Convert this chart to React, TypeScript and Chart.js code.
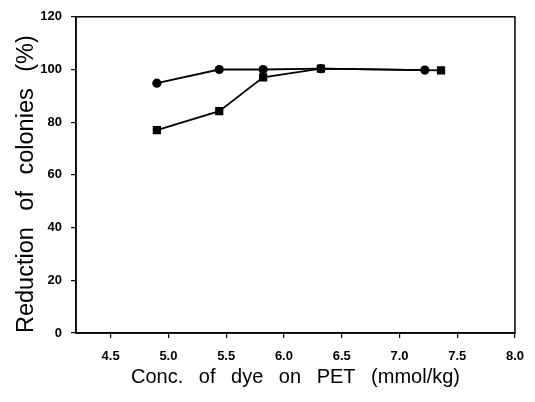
import React, { useEffect, useRef } from "react";
import { Chart, registerables } from "chart.js";

Chart.register(...registerables);

const circleX = [4.9, 5.44, 5.82, 6.32, 7.22];
const circleY = [94.8, 100, 100, 100.3, 99.8];
const squareX = [4.9, 5.44, 5.82, 6.32, 7.36];
const squareY = [77, 84.2, 97, 100.3, 99.7];
const xTicks = [4.5, 5.0, 5.5, 6.0, 6.5, 7.0, 7.5, 8.0];
const yTicks = [0, 20, 40, 60, 80, 100, 120];
const xTitle = "Conc. of dye on PET (mmol/kg)";
const yTitle = "Reduction of colonies (%)";

const FONT = "'Liberation Sans', Arial, sans-serif";

const framePlugin = {
  id: "frame",
  beforeDraw(chart: any) {
    (chart.ctx as any).wordSpacing = "10px";
  },
  afterDraw(chart: any) {
    const { ctx, chartArea } = chart;
    ctx.save();
    ctx.strokeStyle = "#000";
    ctx.lineWidth = 1.5;
    ctx.strokeRect(chartArea.left, chartArea.top, chartArea.right - chartArea.left, chartArea.bottom - chartArea.top);
    ctx.restore();
  },
};

export default function App() {
  const ref = useRef<HTMLCanvasElement>(null);
  useEffect(() => {
    if (!ref.current) return;
    const chart = new Chart(ref.current, {
      type: "scatter",
      data: {
        datasets: [
          {
            label: "square",
            data: squareX.map((x, i) => ({ x, y: squareY[i] })),
            showLine: true,
            borderColor: "#000",
            backgroundColor: "#000",
            borderWidth: 1.8,
            pointStyle: "rect",
            pointRadius: 5.8,
            pointBorderWidth: 0,
          },
          {
            label: "circle",
            data: circleX.map((x, i) => ({ x, y: circleY[i] })),
            showLine: true,
            borderColor: "#000",
            backgroundColor: "#000",
            borderWidth: 1.8,
            pointStyle: "circle",
            pointRadius: 4.6,
            pointBorderWidth: 0,
          },
        ],
      },
      options: {
        animation: false,
        responsive: false,
        layout: { padding: { top: 13, right: 12, left: 0, bottom: 0 } },
        plugins: { legend: { display: false }, tooltip: { enabled: false } },
        scales: {
          x: {
            type: "linear",
            min: 4.2,
            max: 8.0,
            afterBuildTicks: (s: any) => {
              s.ticks = xTicks.map((v) => ({ value: v }));
            },
            afterFit: (s: any) => {
              s.height = 69;
            },
            grid: { display: true, drawOnChartArea: false, tickLength: 5, color: "#000", lineWidth: 1.2 },
            border: { display: true, color: "#000", width: 1.5 },
            ticks: {
              padding: 11,
              color: "#000",
              font: { family: FONT, size: 13, weight: "bold" },
              callback: (v: any) => Number(v).toFixed(1),
              maxRotation: 0,
              autoSkip: false,
            },
            title: {
              display: true,
              text: xTitle,
              color: "#000",
              font: { family: FONT, size: 20 },
              padding: { top: 0, bottom: 13 },
            },
          },
          y: {
            type: "linear",
            min: 0,
            max: 120,
            afterBuildTicks: (s: any) => {
              s.ticks = yTicks.map((v) => ({ value: v }));
            },
            afterFit: (s: any) => {
              s.width = 76;
            },
            grid: { display: true, drawOnChartArea: false, tickLength: 5, color: "#000", lineWidth: 1.2 },
            border: { display: true, color: "#000", width: 1.5 },
            ticks: {
              padding: 9,
              color: "#000",
              font: { family: FONT, size: 13, weight: "bold" },
              autoSkip: false,
            },
            title: {
              display: true,
              text: yTitle,
              align: "start",
              color: "#000",
              font: { family: FONT, size: 23.5 },
              padding: { top: 12, bottom: 0 },
            },
          },
        },
      },
      plugins: [framePlugin],
    });
    return () => chart.destroy();
  }, []);
  return (
    <div style={{ position: "absolute", left: 0, top: 0, width: 535, height: 402, background: "#fff" }}>
      <canvas ref={ref} width={535} height={402} style={{ width: 535, height: 402 }} />
    </div>
  );
}
